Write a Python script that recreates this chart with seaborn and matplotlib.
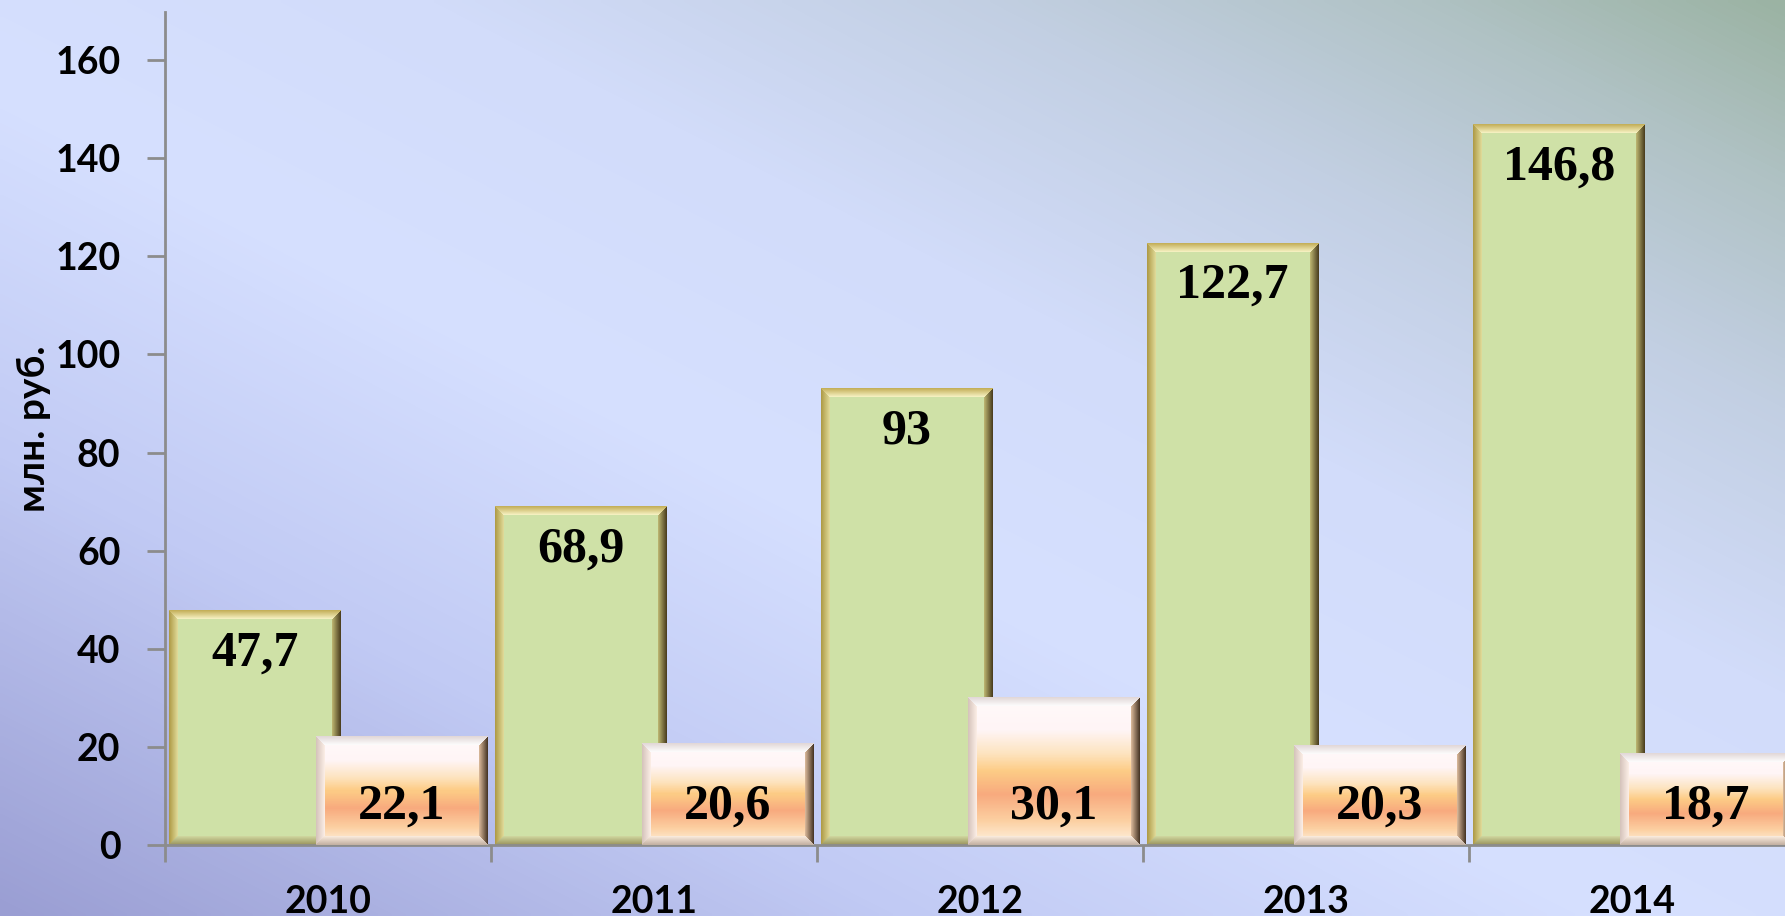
import numpy as np
import pandas as pd
import matplotlib
matplotlib.use("Agg")
import matplotlib.pyplot as plt
import seaborn as sns
from matplotlib.colors import to_rgb, LinearSegmentedColormap

# данные
years = ["2010", "2011", "2012", "2013", "2014"]
series_a = [47.7, 68.9, 93, 122.7, 146.8]
series_b = [22.1, 20.6, 30.1, 20.3, 18.7]
labels_a = ["47,7", "68,9", "93", "122,7", "146,8"]
labels_b = ["22,1", "20,6", "30,1", "20,3", "18,7"]
yticks = [0, 20, 40, 60, 80, 100, 120, 140, 160]

df = pd.DataFrame({
    "year": years * 2,
    "value": series_a + series_b,
    "series": ["ряд 1"] * len(years) + ["ряд 2"] * len(years),
})

sns.set_theme(style="white")
plt.rcParams["font.family"] = ["Lato", "Open Sans", "DejaVu Sans"]
plt.rcParams["font.weight"] = "bold"
plt.rcParams["text.color"] = "black"
plt.rcParams["axes.labelcolor"] = "black"
plt.rcParams["xtick.labelcolor"] = "black"
plt.rcParams["ytick.labelcolor"] = "black"

W, H = 1785, 916
fig = plt.figure(figsize=(W / 100, H / 100), dpi=100)

# фон - диагональный градиент
bg = fig.add_axes([0, 0, 1, 1])
bg.set_zorder(-1)
bg.axis("off")
gx, gy = np.meshgrid(np.linspace(0, 1, 400), np.linspace(0, 1, 200))
t = 0.5 * gx + 0.5 * gy  # gy=0 внизу (origin lower)
bg_cmap = LinearSegmentedColormap.from_list("bg", [
    (0.0, "#9a9ed3"), (0.25, "#c1caf4"), (0.45, "#d6e0ff"),
    (0.62, "#d2dcfa"), (0.78, "#c2cfe2"), (0.9, "#b0c2c4"), (1.0, "#9bb3a3")])
bg.imshow(t, cmap=bg_cmap, origin="lower", aspect="auto", extent=[0, 1, 0, 1],
          interpolation="bilinear")

ax = fig.add_axes([165 / W, 1 - 845 / H, 1630 / W, 833 / H])
ax.set_facecolor("none")
sns.barplot(data=df, x="year", y="value", hue="series",
            palette=["#cfe1a7", "#fbc08f"], width=0.9, dodge=True,
            saturation=1, legend=False, ax=ax)
ax.set_xlim(-0.5, 4.5)
ax.set_ylim(0, 169.8)

sx = ax.transData.transform((1, 0))[0] - ax.transData.transform((0, 0))[0]
sy = ax.transData.transform((0, 1))[1] - ax.transData.transform((0, 0))[1]


def bevel_image(w, h, body, edges, b=9):
    # body: доля высоты -> rgb, edges: (outer, inner) для top/bottom/left/right
    yy = np.arange(h)[:, None] * np.ones((1, w))
    xx = np.ones((h, 1)) * np.arange(w)[None, :]
    frac = yy / max(h - 1, 1)
    img = body(frac)
    d = np.stack([yy, h - 1 - yy, xx, w - 1 - xx])
    idx = np.argmin(d, axis=0)
    dmin = np.min(d, axis=0)
    for k, (outer, inner) in enumerate(edges):
        m = (idx == k) & (dmin < b)
        f = (dmin[m] / b)[:, None]
        img[m] = np.array(to_rgb(outer)) * (1 - f) + np.array(to_rgb(inner)) * f
    return img


def green_body(frac):
    c = np.array(to_rgb("#cfe1a7"))
    return np.ones(frac.shape + (3,)) * c


orange_cmap = LinearSegmentedColormap.from_list("or", [
    (0.0, "#fffafa"), (0.22, "#fff5f6"), (0.38, "#fde4c0"), (0.5, "#fdcc86"),
    (0.66, "#f8aa7e"), (0.84, "#fcd0a2"), (1.0, "#fff3e2")])


def orange_body(frac):
    return orange_cmap(frac)[..., :3]


green_edges = [("#c4b05a", "#fbf7cc"), ("#9c9660", "#d4dca4"),
               ("#b09c48", "#e4e0a0"), ("#4d4020", "#c6c078")]
orange_edges = [("#e2d8d8", "#ffffff"), ("#c4b2a4", "#fff0e2"),
                ("#d6c4bc", "#fff2ea"), ("#4a3828", "#e6c4a4")]

bars = sorted(ax.patches, key=lambda p: p.get_x())
green = bars[0::2]
orange = bars[1::2]

bw = 0.525
for group, body, edges, z in [(green, green_body, green_edges, 2),
                              (orange, orange_body, orange_edges, 3)]:
    for p in group:
        cx = p.get_x() + p.get_width() / 2
        p.set_x(cx - bw / 2)
        p.set_width(bw)
        p.set_linewidth(0)
        p.set_zorder(z)
        hp = p.get_height()
        img = bevel_image(int(round(bw * sx)), max(int(round(hp * sy)), 2), body, edges)
        ax.imshow(img, extent=[cx - bw / 2, cx + bw / 2, 0, hp], aspect="auto",
                  zorder=z + 0.1, interpolation="nearest")

ax.set_xlim(-0.5, 4.5)
ax.set_ylim(0, 169.8)
ax.set_aspect("auto")

for p, lab in zip(green, labels_a):
    ax.annotate(lab, (p.get_x() + p.get_width() / 2, p.get_height()),
                xytext=(0, -43), textcoords="offset pixels", ha="center", va="center",
                fontsize=36, fontweight="bold", family="Liberation Serif", zorder=6)
for p, lab in zip(orange, labels_b):
    ax.annotate(lab, (p.get_x() + p.get_width() / 2, 0),
                xytext=(0, 38), textcoords="offset pixels", ha="center", va="center",
                fontsize=36, fontweight="bold", family="Liberation Serif", zorder=6)

# оси
ax.set_yticks(yticks)
ax.set_yticklabels([str(v) for v in yticks])
ax.set_xticks(range(len(years)))
ax.set_xticklabels(years)
ax.set_xticks(np.arange(-0.5, len(years), 1), minor=True)
ax.tick_params(axis="y", length=13, width=2, color="#8c8c8c", pad=19,
               labelsize=27, left=True)
ax.tick_params(axis="x", which="major", length=0, pad=29, labelsize=27)
ax.tick_params(axis="x", which="minor", length=12, width=2, color="#8c8c8c", bottom=True)
for s in ["top", "right"]:
    ax.spines[s].set_visible(False)
for s in ["left", "bottom"]:
    ax.spines[s].set_color("#8c8c8c")
    ax.spines[s].set_linewidth(2)
ax.set_xlabel("")
ax.set_ylabel("млн. руб.", fontsize=28, fontweight="bold")
ax.yaxis.set_label_coords(-0.07, 0.5)

fig.savefig("out.png", dpi=100)
